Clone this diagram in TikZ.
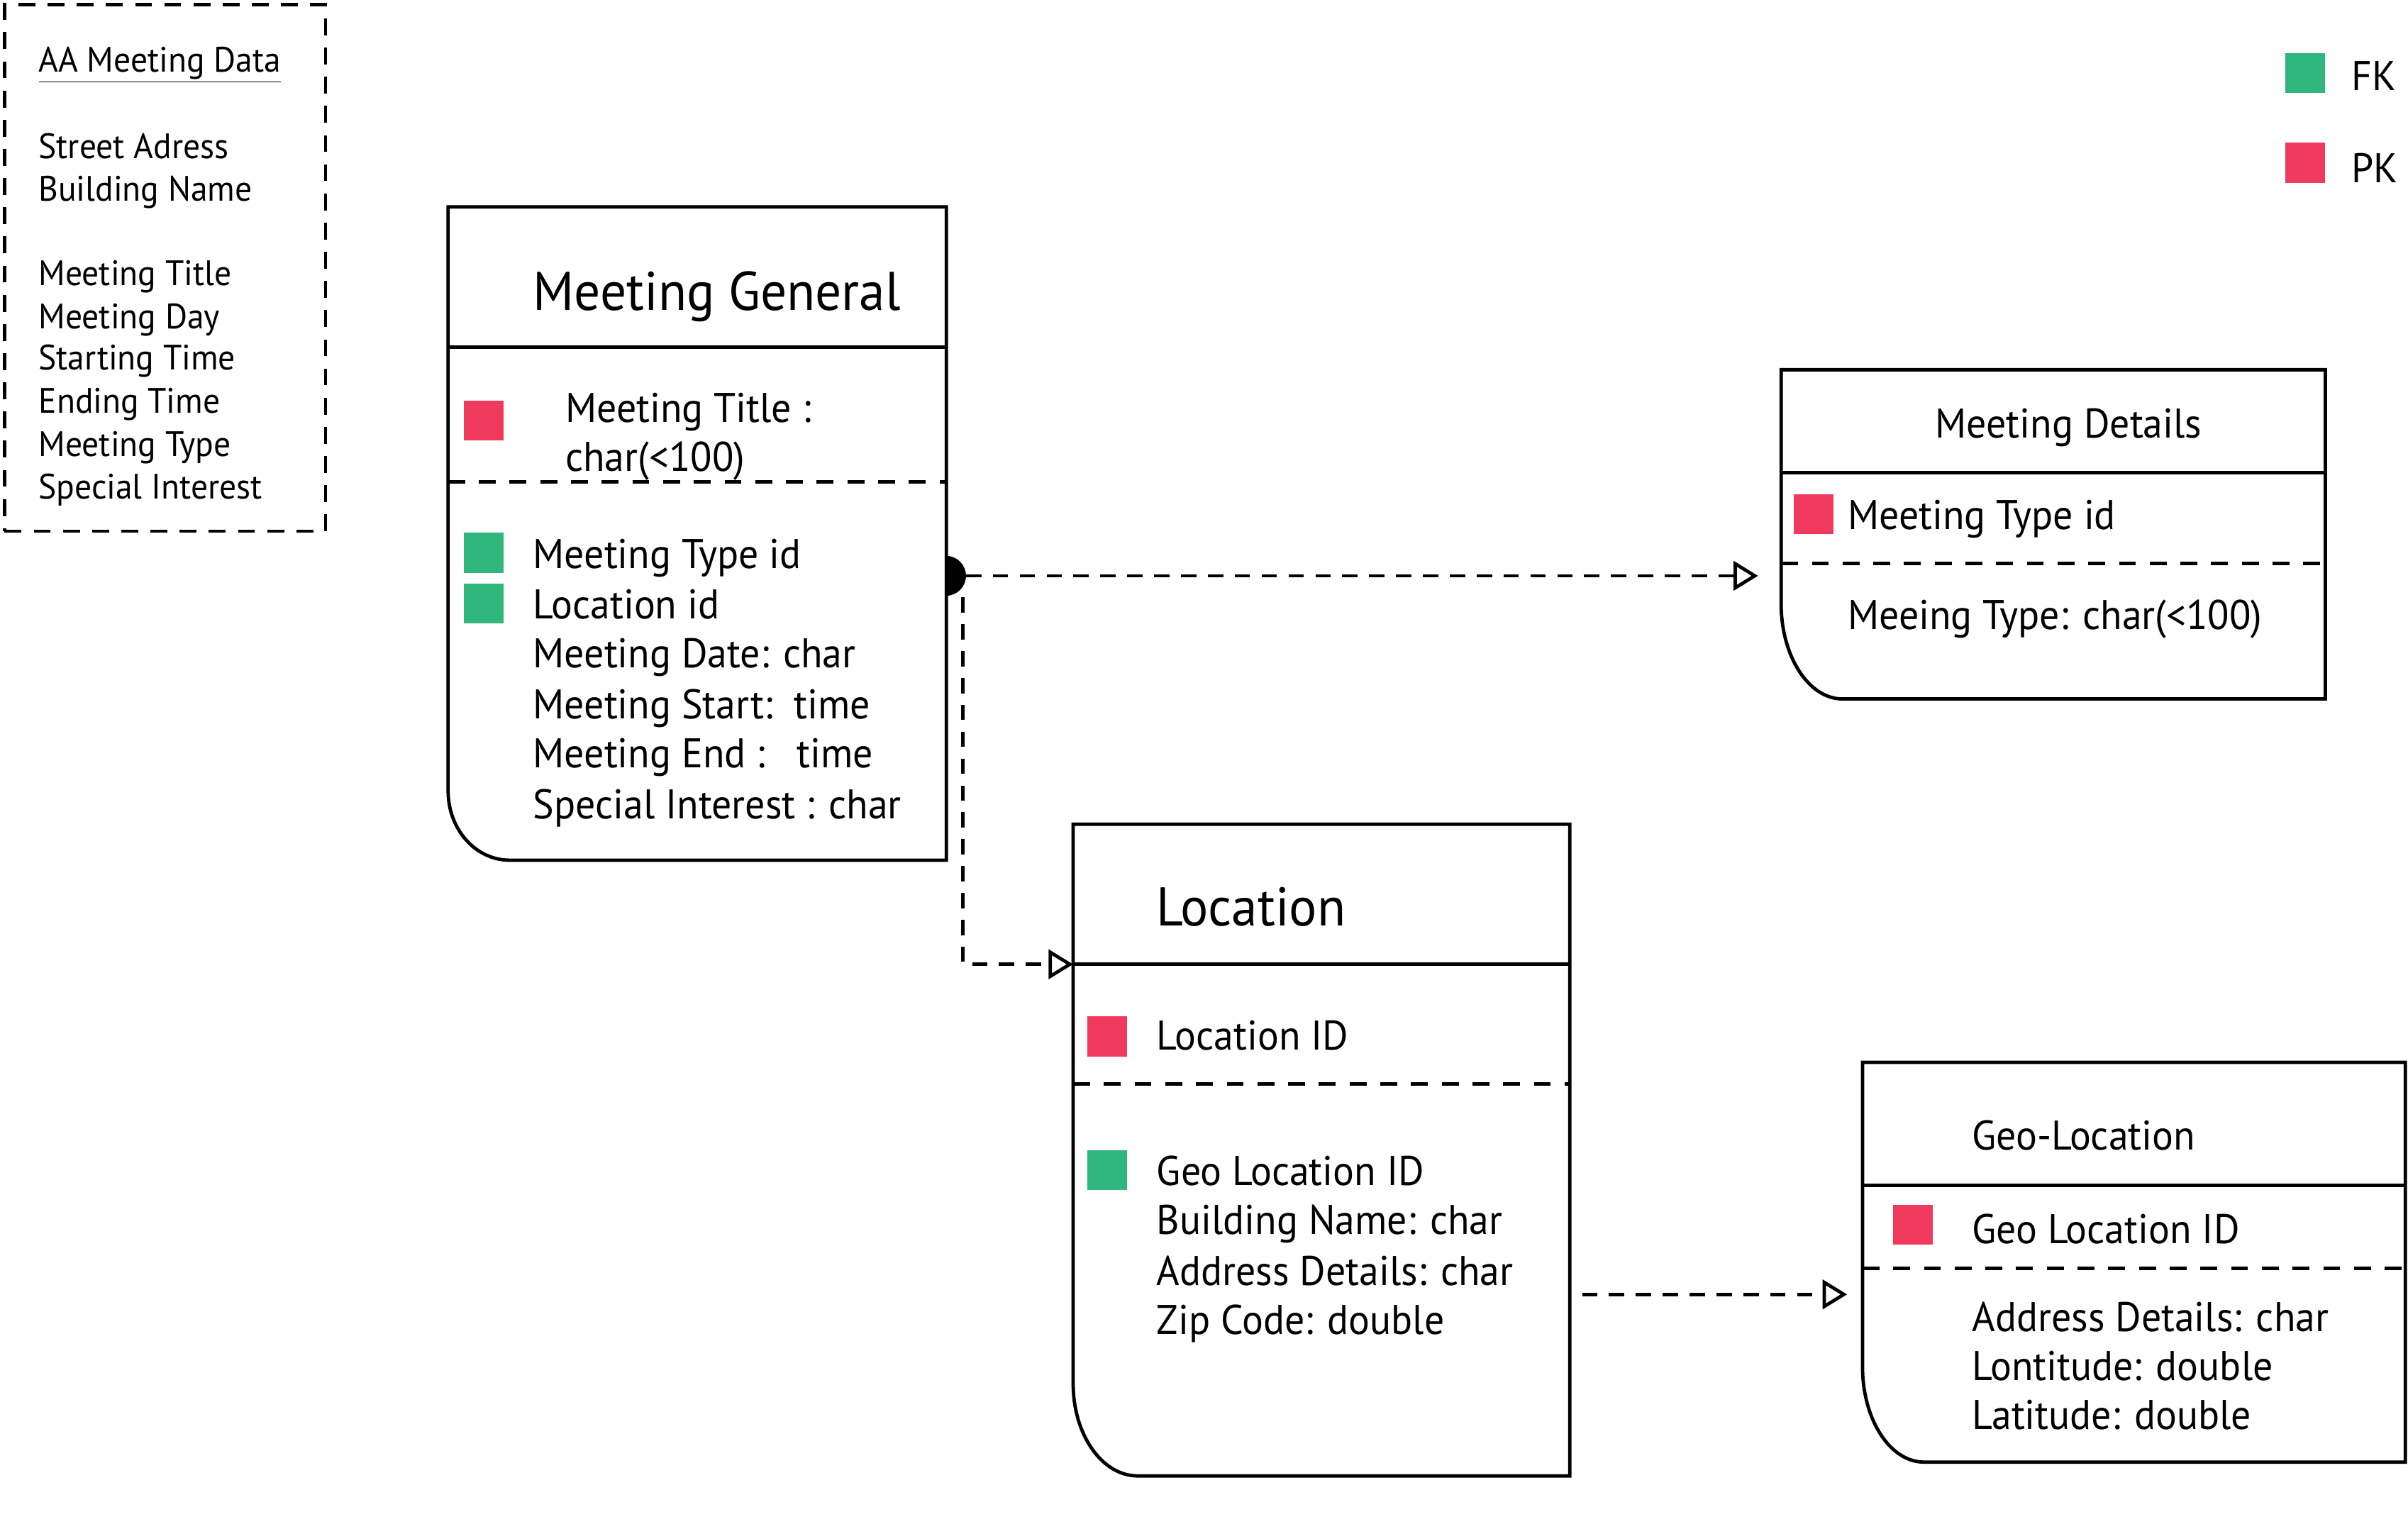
\documentclass[tikz,border=0pt]{standalone}
\usepackage{fontspec}
\setmainfont{PT Sans}[FakeStretch=0.955]
\usepackage{tikz}
\usetikzlibrary{arrows.meta,fit,calc}
\definecolor{pkred}{RGB}{239,58,93}
\definecolor{fkgreen}{RGB}{47,182,124}
% table outline: name, nw, se, corner radii, title line y, dashed line y
\newcommand{\erbox}[7]{%
  \node[fit={(#2) (#3)},inner sep=0pt] (#1) {};
  \draw[frame] ($(#1.south west)+(#4,0)$)
    arc[start angle=270,end angle=180,x radius=#4,y radius=#5]
    -- (#1.north west) -- (#1.north east) -- (#1.south east) -- cycle;
  \coordinate (#1-t) at (#1.west |- 0,#6);
  \draw[frame] (#1-t) -- (#1.east |- 0,#6);
  \draw[frame,dashed,dash pattern=on 11pt off 9pt] (#1.west |- 0,#7) -- (#1.east |- 0,#7);
}

\begin{document}
\begin{tikzpicture}[x=1pt,y=1pt
	,frame/.style={line width=2.2pt}
	,link/.style={line width=2.2pt,dash pattern=on 10pt off 7.5pt
	  ,-{Triangle[open,length=16pt,width=19pt]}}
	,field/.style={anchor=base west,inner sep=0pt,font=\fontsize{27}{32}\selectfont}
	,head/.style={anchor=base west,inner sep=0pt,font=\fontsize{35.5}{42}\selectfont}
	,note/.style={anchor=base west,inner sep=0pt,font=\fontsize{23}{28}\selectfont}
	,pk/.style={fill=pkred,minimum size=26pt,inner sep=0pt}
	,fk/.style={fill=fkgreen,minimum size=26pt,inner sep=0pt}]
  \useasboundingbox (0,0) rectangle (1568,-992.5);

  % source data
  \node[draw,line width=2pt,dash pattern=on 11pt off 8pt,anchor=north west
    ,minimum width=209pt,minimum height=343pt] (aa) at (2,-2) {};
  \node[note] (aa0) at (25,-47) {\underline{AA Meeting Data}};
  \node[note] (aa1) at (25,-103) {Street Adress};
  \node[note] (aa2) at (25,-131) {Building Name};
  \node[note] (aa3) at (25,-186) {Meeting Title};
  \node[note] (aa4) at (25,-214) {Meeting Day};
  \node[note] (aa5) at (25,-241) {Starting Time};
  \node[note] (aa6) at (25,-269) {Ending Time};
  \node[note] (aa7) at (25,-297) {Meeting Type};
  \node[note] (aa8) at (25,-325) {Special Interest};

  % legend
  \node[fk] (fkkey) at (1501,-47.5) {};
  \node[field] (fklab) at (1531,-59) {FK};
  \node[pk] (pkkey) at (1501,-106) {};
  \node[field] (pklab) at (1531,-119) {PK};

  % meeting general
  \erbox{mg}{292,-135}{616,-560}{40}{45}{-226}{-314}
  \node[head] (mgT) at (347,-202) {Meeting General};
  \node[pk] (mgk) at (315,-274) {};
  \node[field] (mg0) at (368,-275) {Meeting Title :};
  \node[field] (mg0b) at (368,-307) {char(<100)};
  \node[fk] (mgf1) at (315,-360) {};
  \node[fk] (mgf2) at (315,-393) {};
  \node[field] (mg1) at (347,-370) {Meeting Type id};
  \node[field] (mg2) at (347,-403) {Location id};
  \node[field] (mg3) at (347,-435) {Meeting Date: char};
  \node[field] (mg4) at (347,-468) {Meeting Start:\ \ time};
  \node[field] (mg5) at (347,-500) {Meeting End :\ \ \ time};
  \node[field] (mg6) at (347,-533) {Special Interest : char};

  % meeting details
  \erbox{md}{1160,-241}{1514,-455}{40}{62}{-308}{-367}
  \node[field,anchor=base] (mdT) at (1347,-285) {Meeting Details};
  \node[pk] (mdk) at (1181,-335) {};
  \node[field] (md1) at (1203,-345) {Meeting Type id};
  \node[field] (md2) at (1203,-410) {Meeing Type: char(<100)};

  % location
  \erbox{loc}{699,-537}{1022,-961}{42}{60}{-628}{-706}
  \node[head] (locT) at (753,-603) {Location};
  \node[pk] (lock) at (721,-675) {};
  \node[field] (loc1) at (753,-684) {Location ID};
  \node[fk] (locf) at (721,-762) {};
  \node[field] (loc2) at (753,-772) {Geo Location ID};
  \node[field] (loc3) at (753,-804) {Building Name: char};
  \node[field] (loc4) at (753,-837) {Address Details: char};
  \node[field] (loc5) at (753,-869) {Zip Code: double};

  % geo-location
  \erbox{gl}{1213,-692}{1566,-952}{40}{62}{-772}{-826}
  \node[field] (glT) at (1284,-749) {Geo-Location};
  \node[pk] (glk) at (1245.5,-797.5) {};
  \node[field] (gl1) at (1284,-810) {Geo Location ID};
  \node[field] (gl2) at (1284,-867) {Address Details: char};
  \node[field] (gl3) at (1284,-899) {Lontitude: double};
  \node[field] (gl4) at (1284,-931) {Latitude: double};

  % links
  \coordinate (mgdot) at (616,-375);
  \fill ([yshift=13pt]mgdot) arc[start angle=90,end angle=-90,radius=13];
  \draw[link,shorten >=15pt] ([xshift=13pt]mgdot) -- (md.west |- mgdot);
  \draw[link] ([shift={(11,-14)}]mgdot) |- (loc-t);
  \draw[link,shorten <=8pt,shorten >=10pt] (loc.east |- 0,-843) -- (gl.west |- 0,-843);
\end{tikzpicture}
\end{document}
